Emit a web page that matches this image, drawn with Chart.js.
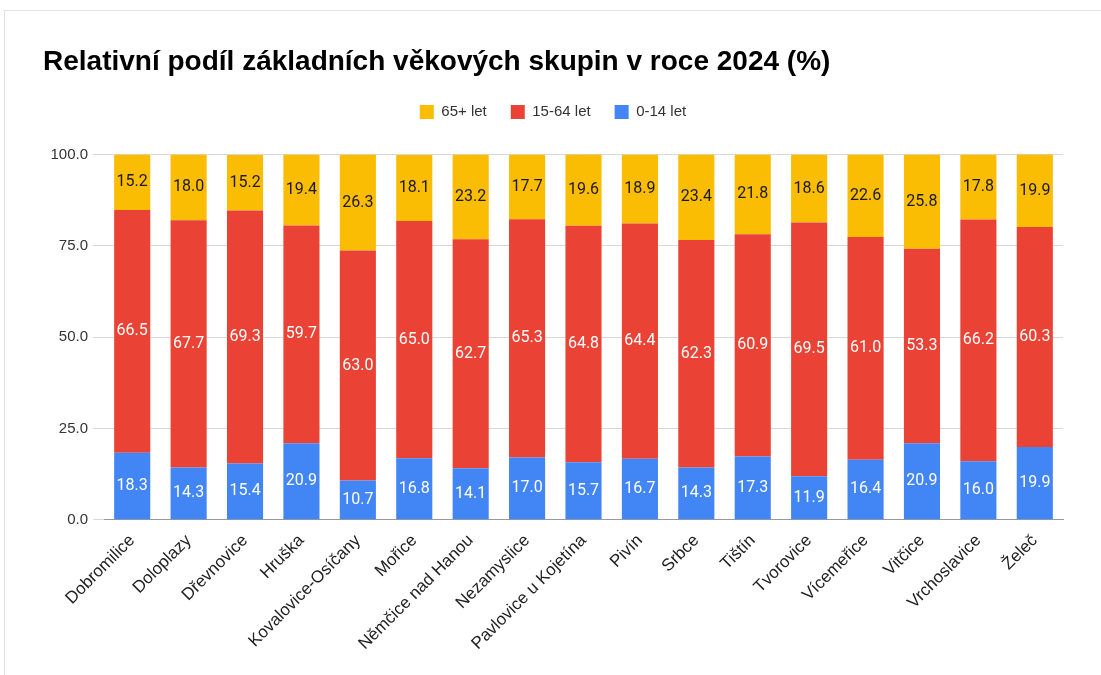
<!DOCTYPE html>
<html>
<head>
<meta charset="utf-8">
<script src="https://cdn.jsdelivr.net/npm/chart.js@4"></script>
<style>
  html, body { margin: 0; padding: 0; background: #fff; overflow: hidden; }
  .frame { position: absolute; left: 4px; top: 10px; width: 1110px; height: 680px; border: 1px solid #e4e4e4; }
  .wrap { position: relative; width: 1101px; height: 675px; }
</style>
</head>
<body>
<div class="frame"></div>
<div class="wrap"><canvas id="ageChart"></canvas></div>
<script>
const obce = ["Dobromilice", "Doloplazy", "Dřevnovice", "Hruška", "Kovalovice-Osíčany", "Mořice",
  "Němčice nad Hanou", "Nezamyslice", "Pavlovice u Kojetína", "Pivín", "Srbce", "Tištín",
  "Tvorovice", "Vícemeřice", "Vitčice", "Vrchoslavice", "Želeč"];
const deti = [18.3, 14.3, 15.4, 20.9, 10.7, 16.8, 14.1, 17.0, 15.7, 16.7, 14.3, 17.3, 11.9, 16.4, 20.9, 16.0, 19.9];
const produktivni = [66.5, 67.7, 69.3, 59.7, 63.0, 65.0, 62.7, 65.3, 64.8, 64.4, 62.3, 60.9, 69.5, 61.0, 53.3, 66.2, 60.3];
const seniori = [15.2, 18.0, 15.2, 19.4, 26.3, 18.1, 23.2, 17.7, 19.6, 18.9, 23.4, 21.8, 18.6, 22.6, 25.8, 17.8, 19.9];
const yTicks = [0, 25, 50, 75, 100];

// values written into the middle of each segment
const valueLabels = {
  id: "valueLabels",
  afterDatasetsDraw(chart) {
    const ctx = chart.ctx;
    ctx.save();
    ctx.font = "16px Roboto";
    ctx.textAlign = "center";
    ctx.textBaseline = "middle";
    chart.data.datasets.forEach((ds, i) => {
      const meta = chart.getDatasetMeta(i);
      meta.data.forEach((bar, j) => {
        ctx.fillStyle = ds.labelColor;
        ctx.fillText(ds.data[j].toFixed(1), bar.x, (bar.y + bar.base) / 2);
      });
    });
    ctx.restore();
  }
};

// some room under the legend
const legendGap = {
  id: "legendGap",
  beforeInit(chart) {
    const fit = chart.legend.fit;
    chart.legend.fit = function () {
      fit.call(this);
      this.height += 25;
    };
  }
};

new Chart(document.getElementById("ageChart"), {
  type: "bar",
  data: {
    labels: obce,
    datasets: [
      { label: "0-14 let", data: deti, backgroundColor: "#4285F4", labelColor: "#ffffff" },
      { label: "15-64 let", data: produktivni, backgroundColor: "#EA4335", labelColor: "#ffffff" },
      { label: "65+ let", data: seniori, backgroundColor: "#FBBC04", labelColor: "#1a1a1a" }
    ]
  },
  options: {
    responsive: true,
    maintainAspectRatio: false,
    animation: false,
    datasets: { bar: { barPercentage: 0.64, categoryPercentage: 1 } },
    layout: { padding: { left: 43, right: 38, top: 0, bottom: 18 } },
    plugins: {
      tooltip: { enabled: false },
      title: {
        display: true,
        text: "Relativní podíl základních věkových skupin v roce 2024 (%)",
        align: "start",
        color: "#000",
        font: { family: "Liberation Sans", size: 28, weight: "bold" },
        padding: { top: 45, bottom: 2 }
      },
      legend: {
        reverse: true,
        labels: {
          boxWidth: 14,
          boxHeight: 14,
          color: "#333",
          font: { family: "Liberation Sans", size: 15 },
          padding: 24
        }
      }
    },
    scales: {
      x: {
        stacked: true,
        grid: { display: false },
        border: { color: "#999" },
        ticks: {
          color: "#222",
          font: { family: "Liberation Sans", size: 17 },
          maxRotation: 45,
          minRotation: 45,
          autoSkip: false
        }
      },
      y: {
        stacked: true,
        min: 0,
        max: 100,
        afterBuildTicks: (axis) => { axis.ticks = yTicks.map(v => ({ value: v })); },
        afterFit: (axis) => { axis.width = 61; },
        grid: { color: "#d8d8d8", tickLength: 11 },
        border: { display: false },
        ticks: {
          color: "#333",
          font: { family: "Liberation Sans", size: 15 },
          padding: 5,
          callback: (v) => Number(v).toFixed(1)
        }
      }
    }
  },
  plugins: [valueLabels, legendGap]
});
</script>
</body>
</html>
